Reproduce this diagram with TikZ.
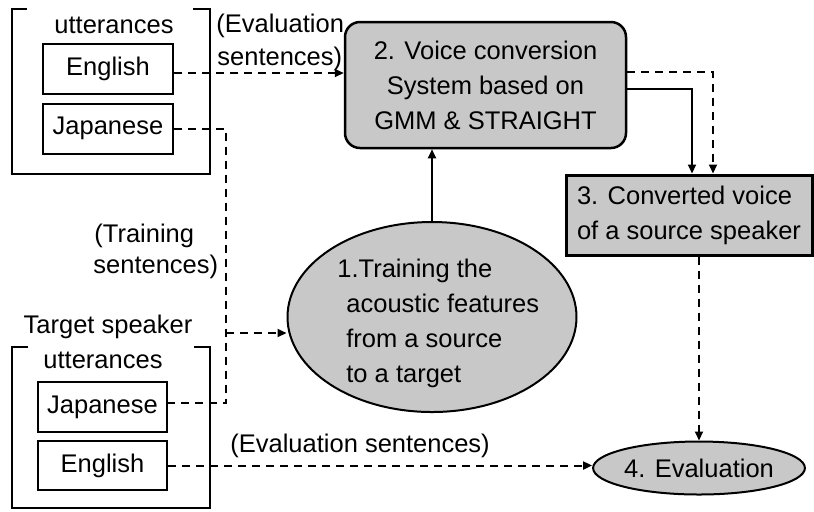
\documentclass[tikz,border=0pt]{standalone}
\usepackage{fontspec}
\setmainfont{Liberation Sans}
\usetikzlibrary{arrows.meta,shapes.geometric}
\definecolor{fillgray}{RGB}{200,200,200}
\begin{document}
\begin{tikzpicture}[x=0.5pt,y=-0.5pt,
  font=\fontsize{12.75pt}{17.5pt}\selectfont,
  lang/.style={draw, line width=1pt, minimum width=65pt, minimum height=25pt, inner sep=0pt},
  txt/.style={inner sep=0pt, anchor=base west},
  dl/.style={line width=1pt, dash pattern=on 4pt off 3pt},
  dla/.style={dl, -{Triangle[length=4.5pt,width=4pt]}},
  sla/.style={line width=1pt, -{Triangle[length=4.5pt,width=4pt]}},
  bracket/.style={line width=1pt},
  graybox/.style={draw, fill=fillgray, inner sep=0pt}]
\useasboundingbox (0,0) rectangle (814,511);

% language boxes
\node[lang] (en1) at (108,69) {English};
\node[lang] (jp1) at (108,128.5) {Japanese};
\node[lang, minimum width=64.5pt] (jp2) at (102.5,407) {Japanese};
\node[lang, minimum width=64.5pt, minimum height=24.5pt] (en2) at (102.5,465.5) {English};

% group brackets
\draw[bracket] (27,9) -- (12,9) -- (12,174) -- (210,174) -- (210,9) -- (193,9);
\draw[bracket] (28,347) -- (12,347) -- (12,508) -- (210,508) -- (210,347) -- (194,347);

% labels
\node[txt, anchor=base] (u1) at (114,33) {utterances};
\node[txt, anchor=base] (u2) at (103,368) {utterances};
\node[txt, anchor=base] (ts) at (108,333) {Target speaker};
\node[txt] (ev1a) at (216,32) {(Evaluation};
\node[txt] (ev1b) at (217,65) {sentences)};
\node[txt] (tr1a) at (94,242) {(Training};
\node[txt] (tr1b) at (93,273) {sentences)};
\node[txt] (ev2) at (230,452) {(Evaluation sentences)};

% main blocks
\node[graybox, rounded corners=7.5pt, line width=1.25pt, minimum width=140.5pt, minimum height=63pt, align=center] (b2) at (485.5,85) {2. Voice conversion\\System based on\\GMM \& STRAIGHT};
\node[graybox, line width=1.5pt, minimum width=123pt, minimum height=40pt, align=left] (b3) at (689,215) {3. Converted voice\\of a source speaker};
\node[graybox, ellipse, line width=1pt, minimum width=144.5pt, minimum height=95pt] (e1) at (432,317) {};
\node[inner sep=0pt, anchor=north west, align=left] (t1) at (346,259) {\hspace*{-4.5pt}1.Training the\\acoustic features\\from a source\\to a target};
\node[graybox, ellipse, line width=1pt, minimum width=99pt, minimum height=26.5pt] (e4) at (699,468) {4. Evaluation};

% connectors
\coordinate (vx) at (226,0);
\coordinate (vm) at (226,333);
\coordinate (en1e) at ([yshift=-2pt]en1.east);
\coordinate (jp2e) at ([yshift=2pt]jp2.east);
\coordinate (b2s) at ([yshift=-2pt]b2.east);
\coordinate (b2d) at ([yshift=6.5pt]b2.east);
\coordinate (b3s) at ([xshift=1.5pt]b3.north);
\coordinate (b3d) at ([xshift=12pt]b3.north);

\draw[dla] (en1e) -- (en1e -| b2.west);
\draw[dl] (jp1.east) -- (jp1.east -| vx) -- (jp2e -| vx) -- (jp2e);
\draw[dla] (vm) -- (vm -| e1.west);
\draw[dla] (en2.east) -- (en2.east -| e4.west);
\draw[sla] (e1.north) -- (e1.north |- b2.south);
\draw[sla] (b2s) -| (b3s);
\draw[dla] (b2d) -| (b3d);
\draw[dla] (e4.north |- b3.south) -- (e4.north);
\end{tikzpicture}
\end{document}
